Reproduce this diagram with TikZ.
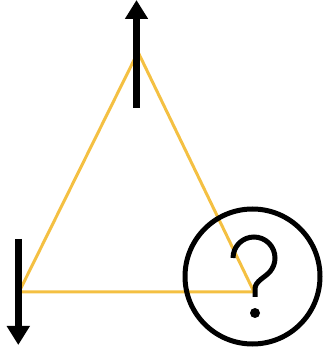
\documentclass[tikz,border=0pt]{standalone}
\usetikzlibrary{arrows.meta}
\definecolor{edgeY}{RGB}{244,192,66}
\begin{document}
\begin{tikzpicture}[
    x=1pt, y=1pt,
    edge/.style={draw=edgeY, line width=3pt, line join=miter},
    spin/.style={draw=black, line width=7.5pt, -{Triangle[length=19pt, width=22pt]}},
    query/.style={draw=black, line width=5pt, circle, minimum size=135pt, inner sep=0pt},
    qmark/.style={draw=black, line width=5pt},
  ]
  \useasboundingbox (0,0) rectangle (323,351);

  %% ---- triangle of sites ----
  \coordinate (top) at (138,299);
  \coordinate (left) at (19,59);
  \coordinate (right) at (254,59);
  \draw[edge] (top) -- (left) -- (right) -- cycle;

  %% ---- spins on the two known sites ----
  \coordinate (upS) at (136.5,243);
  \coordinate (upE) at (136.5,351);
  \coordinate (dnS) at (18.3,112);
  \coordinate (dnE) at (18.3,6);
  \draw[spin] (upS) -- (upE);
  \draw[spin] (dnS) -- (dnE);

  %% ---- the frustrated site ----
  \node[query] (ring) at (252.5,74.5) {};
  \draw[qmark] (233,93) arc[start angle=180, end angle=-40, radius=21]
    .. controls (265,73.4) and (255,70) .. (255,62) -- (255,54);
  \fill (255,38) circle[radius=5];

\end{tikzpicture}
\end{document}
